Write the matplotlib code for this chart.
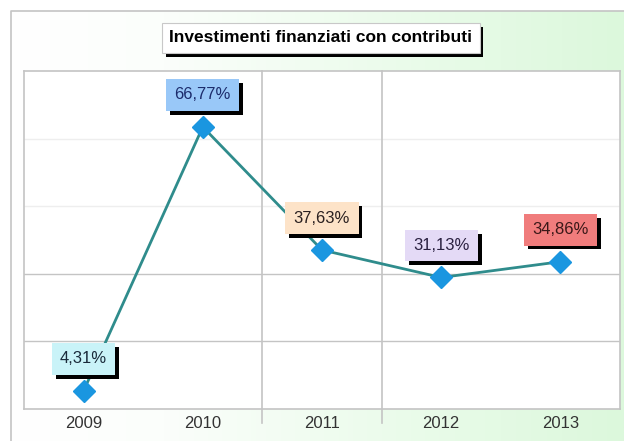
import numpy as np
import matplotlib
matplotlib.use("Agg")
import matplotlib.pyplot as plt
from matplotlib.colors import LinearSegmentedColormap

plt.rcParams['font.family'] = ['Liberation Sans', 'DejaVu Sans']

# dati
anni = ['2009', '2010', '2011', '2012', '2013']
valori = [4.31, 66.77, 37.63, 31.13, 34.86]
etichette = ['4,31%', '66,77%', '37,63%', '31,13%', '34,86%']
colori_box = ['#c9f3f8', '#99c8f8', '#fde3c8', '#e4daf6', '#f07c7c']
colori_testo = ['#1a2a3a', '#1c2c6c', '#2a2020', '#2a2040', '#3a1818']
titolo = 'Investimenti finanziati con contributi'

W, H = 624, 441
fig = plt.figure(figsize=(W / 100, H / 100), dpi=100)

# sfondo con sfumatura bianco -> verde
bg = fig.add_axes([0, 0, 1, 1])
bg.set_xlim(0, W)
bg.set_ylim(H, 0)
bg.axis('off')
cmap = LinearSegmentedColormap.from_list('bg', [(0, '#ffffff'), (0.25, '#fbfefb'), (0.7, '#e8fbe8'), (1, '#dcf8dc')])
grad = np.linspace(0, 1, 256).reshape(1, -1)
bg.imshow(grad, cmap=cmap, extent=[11, W, H, 11], aspect='auto', zorder=0)
bg.plot([11, 11, W], [H, 11, 11], color='#c4c4c4', lw=1.2, zorder=1)

# grafico
ax = fig.add_axes([24 / W, 32 / H, 596 / W, 338 / H])
ax.set_facecolor('white')
x = np.arange(len(anni))
ax.set_xlim(-0.5, len(anni) - 0.5)
ax.set_ylim(0, 80)

for y in [16, 32]:
    ax.axhline(y, color='#c4c4c4', lw=1, zorder=1)
for y in [48, 64]:
    ax.axhline(y, color='#eeeeee', lw=1, zorder=1)
for xv in [1.5, 2.5]:
    ax.axvline(xv, ymin=-14 / 338, ymax=1, color='#c4c4c4', lw=1.2, clip_on=False, zorder=1)

for s in ax.spines.values():
    s.set_color('#c4c4c4')
    s.set_linewidth(1.2)

ax.plot(x, valori, color='#2f8c8c', lw=2, zorder=3)
ax.plot(x, valori, linestyle='none', marker='D', markersize=11, color='#1a96e0',
        markeredgecolor='#1a96e0', zorder=4)

for xi, v, t, fc, tc in zip(x, valori, etichette, colori_box, colori_testo):
    # ombra
    ax.annotate(t, (xi, v), xytext=(2.8, 23 - 2.8), textcoords='offset points',
                ha='center', va='center', fontsize=12, color='none',
                bbox=dict(boxstyle='square,pad=0.5', fc='black', ec='none'), zorder=5)
    ax.annotate(t, (xi, v), xytext=(0, 23), textcoords='offset points',
                ha='center', va='center', fontsize=12, color=tc,
                bbox=dict(boxstyle='square,pad=0.5', fc=fc, ec='none'), zorder=6)

ax.set_xticks(x)
ax.set_xticklabels(anni, fontsize=12, color='#333333')
ax.tick_params(axis='x', length=0, pad=5)
ax.set_yticks([])

# titolo
fig.text(321 / W + 3.5 / W, 1 - 38 / H - 4 / H, titolo, ha='center', va='center',
         fontsize=12.5, fontweight='bold', color='none',
         bbox=dict(boxstyle='square,pad=0.42', fc='black', ec='none'))
fig.text(321 / W, 1 - 38 / H, titolo, ha='center', va='center',
         fontsize=12.5, fontweight='bold', color='black',
         bbox=dict(boxstyle='square,pad=0.42', fc='white', ec='#c8c8c8', lw=0.8))

fig.savefig('out.png', dpi=100)
